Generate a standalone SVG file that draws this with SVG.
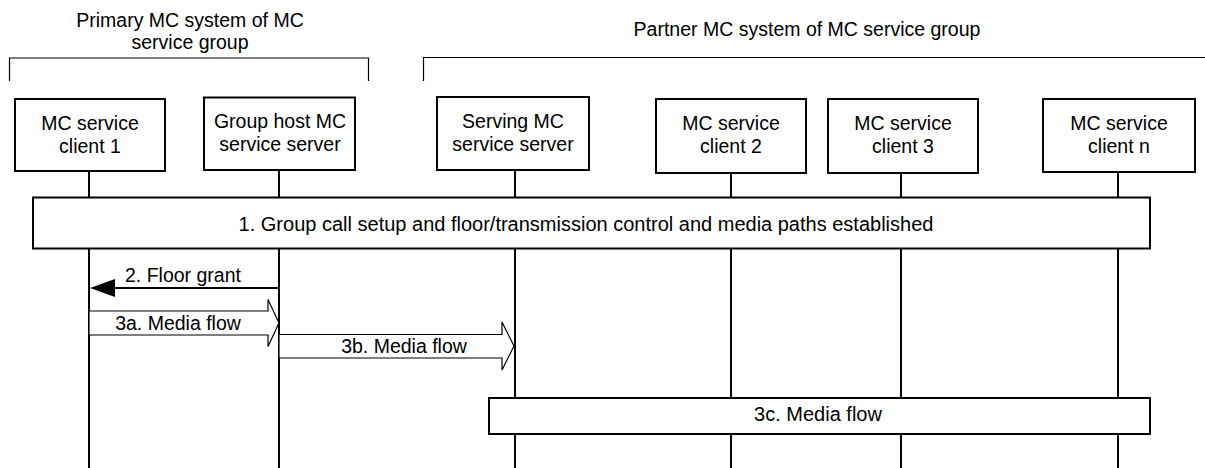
<svg xmlns="http://www.w3.org/2000/svg" width="1205" height="468" viewBox="0 0 1205 468">
<style>
text{font-family:"Liberation Sans",Arial,sans-serif;font-size:19.5px;fill:#000;text-anchor:middle}
.big{font-size:20px}
.box{fill:#fff;stroke:#000;stroke-width:2}
.life{stroke:#000;stroke-width:2;fill:none}
.brk{stroke:#000;stroke-width:1.2;fill:none}
.blk{fill:#fff;stroke:#000;stroke-width:1.2}
.ln{stroke:#000;stroke-width:2;fill:none}
</style>
<rect width="1205" height="468" fill="#fff"/>
<g id="groups">
<text x="190" y="27">Primary MC system of MC</text>
<text x="190" y="49">service group</text>
<path class="brk" d="M9.5,81 V58 H368.5 V81"/>
<text x="807" y="36">Partner MC system of MC service group</text>
<path class="brk" d="M423.5,81 V57.5 H1205"/>
</g>
<g id="connectors">
<path class="life" d="M89,171 V468 M279,170 V468 M515,170 V468 M731,173 V468 M901,173 V468 M1118,172 V468"/>
<path class="ln" d="M279,288 H112"/>
<path d="M90,288 L115,279 L115,297 Z" fill="#000"/>
<text x="183" y="282">2. Floor grant</text>
<path class="blk" d="M89,311 H268 V299.5 L279,323 L268,346.5 V335 H89 Z"/>
<text x="178" y="330">3a. Media flow</text>
<path class="blk" d="M279,334.5 H502 V322 L514,346 L502,370 V358 H279 Z"/>
<text x="404" y="353">3b. Media flow</text>
</g>
<g id="n1"><rect class="box" x="15" y="99" width="150" height="72"/><text x="90" y="130">MC service</text><text x="90" y="153">client 1</text></g>
<g id="n2"><rect class="box" x="204" y="97.5" width="151" height="72.5"/><text x="280" y="128">Group host MC</text><text x="280" y="151">service server</text></g>
<g id="n3"><rect class="box" x="437" y="97" width="152" height="73"/><text x="513" y="128">Serving MC</text><text x="513" y="151">service server</text></g>
<g id="n4"><rect class="box" x="656" y="99" width="150" height="74"/><text x="731" y="130">MC service</text><text x="731" y="153">client 2</text></g>
<g id="n5"><rect class="box" x="828" y="99" width="150" height="74"/><text x="903" y="130">MC service</text><text x="903" y="153">client 3</text></g>
<g id="n6"><rect class="box" x="1043" y="99" width="152" height="73"/><text x="1119" y="130">MC service</text><text x="1119" y="153">client n</text></g>
<g id="step1"><rect class="box" x="33" y="197.5" width="1117" height="51"/><text class="big" x="586" y="231">1. Group call setup and floor/transmission control and media paths established</text></g>
<g id="step3c"><rect class="box" x="489" y="398" width="661" height="36"/><text class="big" x="818" y="421">3c. Media flow</text></g>
</svg>
